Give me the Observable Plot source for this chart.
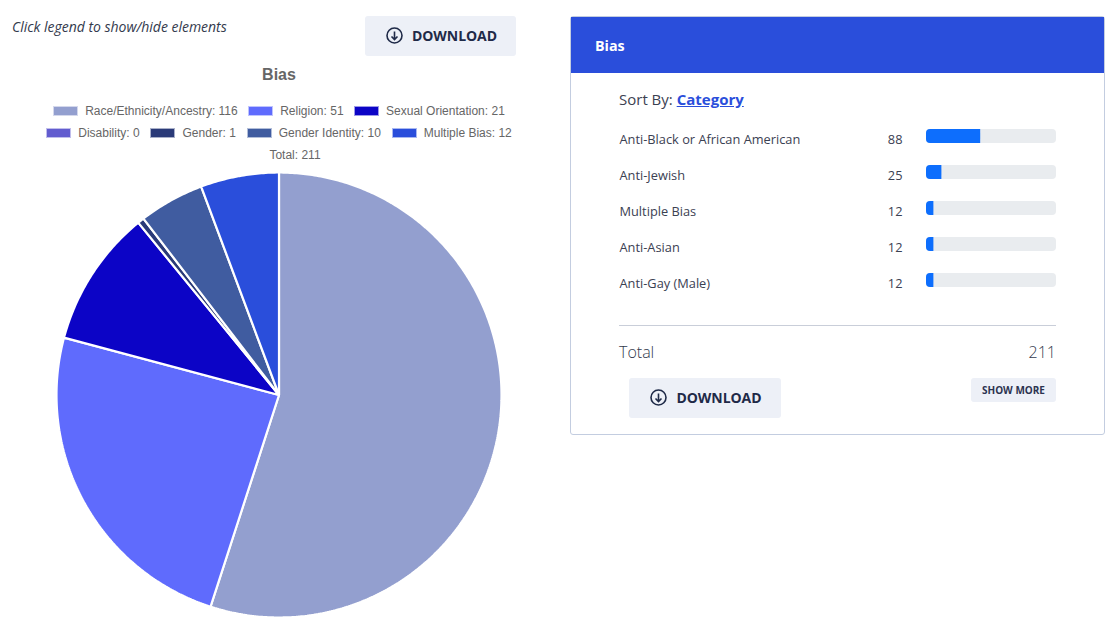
<!DOCTYPE html>
<html><head><meta charset="utf-8">
<script src="https://cdn.jsdelivr.net/npm/d3@7"></script>
<script src="https://cdn.jsdelivr.net/npm/@observablehq/plot@0.6"></script>
<style>
html,body{margin:0;padding:0;background:#fff;overflow:hidden}
#page{position:relative;width:1116px;height:626px;font-family:"Open Sans",sans-serif;color:#2c3350}
#page>*{position:absolute}
.btn{background:#edf0f7;border-radius:3px;display:flex;align-items:center;justify-content:center;font-weight:700;color:#1f2a48;box-sizing:border-box}
.btn svg{margin-right:9px}
.dl{width:152px;height:40px;font-size:14px;letter-spacing:-.05px;padding-left:2px;padding-bottom:1px}
#note{left:12px;top:18px;font-style:italic;font-size:14px;color:#333a4d;line-height:18px;letter-spacing:-.02px}
#title{left:0;width:558px;top:65px;text-align:center;font:bold 16px "Liberation Sans",Arial,sans-serif;color:#666;line-height:20px}
#legend{left:0;width:558px;top:100px;font:12px "Liberation Sans",Arial,sans-serif;color:#666}
.lrow{display:flex;justify-content:center;height:22px;align-items:center;gap:10.5px}
.lrow.wide{gap:10.9px}
.li{display:flex;align-items:center;white-space:nowrap}
.sw{width:25px;height:10px;margin-right:7px;box-sizing:border-box;border:1px solid rgba(255,255,255,.6)}
#card{left:570px;top:16px;width:535px;height:419px;box-sizing:border-box;border:1px solid #c3cde0;border-radius:3px;overflow:hidden}
#cardhead{left:571px;top:17px;width:533px;height:56px;background:#2a4edb;color:#fff;font-weight:700;font-size:14.3px;line-height:57px;text-indent:24px}
#sort{left:619px;top:89px;font-size:15px;line-height:20px;color:#3b4152}
#sort a{color:#2a4edb;font-weight:700;text-decoration:underline}
#rule{left:619px;top:325px;width:437px;height:1px;background:#c9ced9}
#tl,#tv{top:341px;font-size:16px;line-height:22px;font-weight:300;color:#333a4d}
#tl{left:619px}#tv{right:60px}
#more{left:971px;top:378px;width:85px;height:24px;font-size:10px;letter-spacing:0;color:#2c3350}
#pie{left:55px;top:171px}
#bars{left:619px;top:118px}
svg{display:block}
</style></head>
<body>
<div id="page">
  <div id="note">Click legend to show/hide elements</div>
  <div class="btn dl" id="dl1" style="left:365px;top:16px;width:151px"></div>
  <div id="title">Bias</div>
  <div id="legend"></div>
  <div id="pie"></div>
  <div id="card"></div>
  <div id="cardhead">Bias</div>
  <div id="sort">Sort By: <a>Category</a></div>
  <div id="bars"></div>
  <div id="rule"></div>
  <div id="tl">Total</div>
  <div id="tv"></div>
  <div class="btn dl" id="dl2" style="left:629px;top:378px"></div>
  <div class="btn" id="more">SHOW MORE</div>
</div>
<script>
// Pie data
const biasNames = ["Race/Ethnicity/Ancestry","Religion","Sexual Orientation","Disability","Gender","Gender Identity","Multiple Bias"];
const biasCounts = [116,51,21,0,1,10,12];
const biasColors = ["#939fcf","#5f6bfd","#0c04c6","#625ccf","#2a3a78","#405ca0","#2a4edb"];
const total = 211;
// Top-categories panel data
const rowNames = ["Anti-Black or African American","Anti-Jewish","Multiple Bias","Anti-Asian","Anti-Gay (Male)"];
const rowCounts = [88,25,12,12,12];

const icon = `<svg width="17" height="17" viewBox="0 0 17 17" fill="none" stroke="#1f2a48" stroke-width="1.6"><circle cx="8.5" cy="8.5" r="7.5"/><path d="M8.5 4.5v8M5.5 9.5l3 3 3-3"/></svg>`;
for (const id of ["dl1","dl2"]) document.getElementById(id).innerHTML = icon + "DOWNLOAD";
document.getElementById("tv").textContent = total;

// Legend
const legend = document.getElementById("legend");
const item = i => `<div class="li"><div class="sw" style="background:${biasColors[i]}"></div>${biasNames[i]}: ${biasCounts[i]}</div>`;
legend.innerHTML =
  `<div class="lrow">${[0,1,2].map(item).join("")}</div>` +
  `<div class="lrow wide">${[3,4,5,6].map(item).join("")}</div>` +
  `<div class="lrow"><div class="li"><div class="sw" style="background:transparent;border:0"></div>Total: ${total}</div></div>`;

// Pie outline in data space: clockwise from 12 o'clock, one polygon per slice
const slices = [];
let cum = 0;
biasNames.forEach((name, i) => {
  const a0 = cum / total * 2 * Math.PI;
  cum += biasCounts[i];
  const a1 = cum / total * 2 * Math.PI;
  if (biasCounts[i] === 0) return;
  slices.push({name, px: 0, py: 0});
  const n = Math.max(2, Math.ceil((a1 - a0) / 0.01));
  for (let k = 0; k <= n; k++) {
    const a = a0 + (a1 - a0) * k / n;
    slices.push({name, px: Math.sin(a), py: Math.cos(a)});
  }
});
document.getElementById("pie").append(Plot.plot({
  width: 448, height: 449, margin: 0,
  x: {domain: [-1, 1], range: [1, 446], axis: null},
  y: {domain: [-1, 1], range: [446, 1], axis: null},
  color: {type: "ordinal", domain: biasNames, range: biasColors},
  marks: [
    Plot.line(slices, {x: "px", y: "py", z: "name", fill: "name", stroke: "#fff", strokeWidth: 2.2,
      strokeLinejoin: "bevel", curve: "linear-closed"})
  ]
}));

// Bars with labels
const rows = rowNames.map((name, i) => ({name, count: rowCounts[i]}));
document.getElementById("bars").append(Plot.plot({
  width: 437, height: 180,
  marginLeft: 307, marginRight: 0, marginTop: 0, marginBottom: 0,
  style: {fontFamily: "'Open Sans',sans-serif", overflow: "visible"},
  x: {domain: [0, total], axis: null},
  y: {domain: rowNames, axis: null, paddingInner: 0.611, paddingOuter: 0.3055},
  marks: [
    Plot.barX(rows, {x: () => total, y: "name", fill: "#e9ecef", rx: 4}),
    Plot.barX(rows, {x: "count", y: "name", fill: "#0d6efd", rx1: 4}),
    Plot.text(rows, {text: "name", y: "name", frameAnchor: "left", textAnchor: "start", dx: -307, dy: 3.5, fontSize: 12.8, fill: "#3b4152"}),
    Plot.text(rows, {text: "count", y: "name", frameAnchor: "left", textAnchor: "end", dx: -24, dy: 3.5, fontSize: 12.8, fill: "#3b4152"})
  ]
}));
</script>
</body></html>
